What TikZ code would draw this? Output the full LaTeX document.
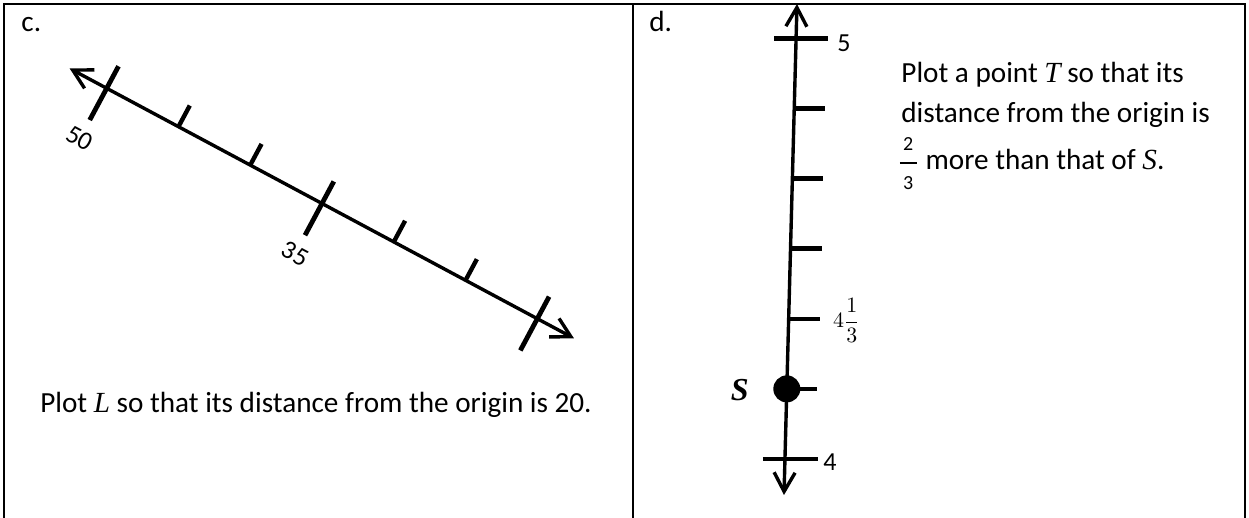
\documentclass[tikz,border=0pt]{standalone}
\usepackage{amsmath}
\usepackage{fontspec}
\setmainfont{Carlito}
\newfontfamily\varfont{Liberation Serif}
\usetikzlibrary{arrows.meta, positioning, calc}
\definecolor{mydark}{RGB}{0,0,0}
\tikzset{
  frame/.style={line width=1pt, color=mydark},
  numline/.style={line width=1.7pt, color=mydark,
    {Straight Barb[length=9.5pt, width=10.5pt]}-{Straight Barb[length=9.5pt, width=10.5pt]}},
  bigtick/.style={line width=2.4pt, color=mydark},
  smalltick/.style={line width=2.2pt, color=mydark},
  txt/.style={font=\fontsize{14.6}{17}\selectfont, inner sep=0pt},
  numlbl/.style={font=\fontsize{13}{15}\selectfont, inner sep=0pt}
}
\newcommand{\var}[1]{{\varfont\itshape #1}}
\newcommand{\smallfrac}[2]{$\genfrac{}{}{0.9pt}{0}{\mbox{\fontsize{10}{11}\selectfont\,#1\,}}{\mbox{\fontsize{10}{11}\selectfont\,#2\,}}$}

\begin{document}
\begin{tikzpicture}[x=0.5pt, y=0.5pt]
  \useasboundingbox (0,0) rectangle (1249,-518);

  % Draw the two boxes
  \draw[frame] (4,-518) -- (4,-4) -- (1245,-4) -- (1245,-518);
  \draw[frame] (633,-4) -- (633,-518);

  % Part c: slanted number line
  \node[txt, anchor=base west] (clbl) at (21,-32) {c.};
  \begin{scope}[shift={(106.7,-88.3)}, rotate=-28.15]
    \coordinate (cstart) at (-42,0);
    \coordinate (cend) at (530,0);
    \draw[numline] (cstart) -- (cend);
    \foreach \i in {0,3,6} {
      \draw[bigtick] (\i*81.4,25) -- (\i*81.4,-36);
    }
    \foreach \i in {1,2,4,5} {
      \draw[smalltick] (\i*81.4,0) -- (\i*81.4,24);
    }
    \node[numlbl, rotate=-28.15] (l50) at (0,-57) {50};
    \node[numlbl, rotate=-28.15] (l35) at (244.2,-57) {35};
  \end{scope}
  \node[txt, anchor=base] (ctask) at (316,-413) {Plot \var{L} so that its distance from the origin is 20.};

  % Part d: upright number line
  \node[txt, anchor=base west] (dlbl) at (649,-32) {d.};
  \coordinate (dbot) at (784,-495);
  \coordinate (dtop) at (797,-4);
  \draw[numline] (dbot) -- (dtop);
  \foreach \i in {0,...,6} {
    \coordinate (dt\i) at ($(dbot)!{0.0733+\i*0.1428}!(dtop)$);
  }
  \foreach \i in {2,3,4,5} {
    \draw[smalltick] (dt\i) -- ++(31,0);
  }
  \draw[bigtick] ($(dt0)+(-22,0)$) -- ++(55,0);
  \draw[bigtick] ($(dt6)+(-22,0)$) -- ++(54,0);
  \draw[smalltick] (dt1) -- ++(30,0);
  \fill[mydark] (dt1) circle (13.5);

  \node[numlbl, anchor=west] (l4) at ($(dt0)+(38,-3)$) {4};
  \node[numlbl, anchor=west] (l5) at ($(dt6)+(41,-5)$) {5};
  \node[numlbl, anchor=west] (l413) at ($(dt2)+(44,-2)$) {\fontsize{11}{13}\selectfont$4\dfrac{1}{3}$};
  \node[font=\fontsize{16}{18}\selectfont\varfont\bfseries\itshape, inner sep=0pt] (sname) at ($(dt1)+(-47,-1)$) {S};

  \node[txt, anchor=base west] (dtask1) at (901,-83) {Plot a point \var{T} so that its};
  \node[txt, anchor=base west] (dtask2) at (901,-123) {distance from the origin is};
  \node[txt, anchor=base west] (dtask3) at (897,-170) {\smallfrac{2}{3} more than that of \var{S}.};
\end{tikzpicture}
\end{document}
